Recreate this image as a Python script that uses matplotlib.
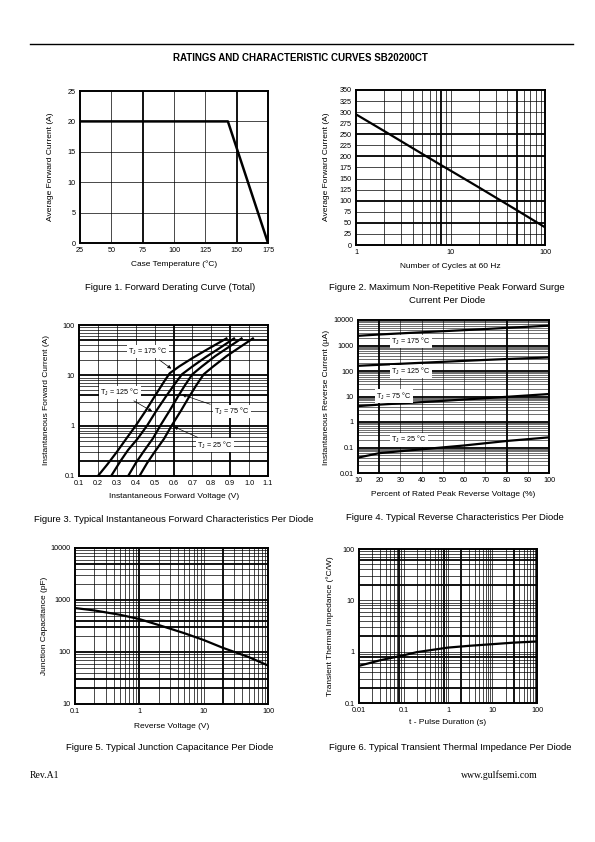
"""Ratings and characteristic curves page for SB20200CT."""
import numpy as np
import matplotlib
matplotlib.use("Agg")
import matplotlib.pyplot as plt
from matplotlib.lines import Line2D
from matplotlib.ticker import FixedLocator, FixedFormatter, NullFormatter, NullLocator

plt.rcParams["font.family"] = ["Liberation Sans", "DejaVu Sans"]
plt.rcParams["mathtext.default"] = "regular"

W, H = 595, 842

# Fig 1 - forward derating
case_temp = [25, 143, 175]
avg_current = [20, 20, 0]

# Fig 2 - surge current
cycles = [1, 2, 5, 8, 10, 20, 50, 100]
surge_current = [295, 257, 206, 180, 168, 130, 79, 40]

# Fig 3 - forward characteristics (V, A)
vf_175 = [0.20, 0.25, 0.30, 0.35, 0.40, 0.45, 0.50, 0.55, 0.58, 0.63, 0.70, 0.78, 0.88]
if_175 = [0.1, 0.17, 0.3, 0.55, 1.0, 1.9, 3.8, 7.5, 11, 15, 22, 33, 54]
vf_125 = [0.27, 0.32, 0.36, 0.41, 0.46, 0.51, 0.56, 0.61, 0.645, 0.70, 0.77, 0.84, 0.92]
if_125 = [0.1, 0.2, 0.33, 0.55, 1.0, 2.0, 3.8, 7.0, 10.5, 15, 23, 34, 54]
vf_75 = [0.36, 0.40, 0.44, 0.49, 0.53, 0.58, 0.62, 0.66, 0.70, 0.75, 0.82, 0.89, 0.96]
if_75 = [0.1, 0.18, 0.3, 0.55, 1.0, 2.0, 3.6, 6.3, 10.5, 15, 24, 36, 54]
vf_25 = [0.42, 0.46, 0.50, 0.55, 0.59, 0.64, 0.68, 0.72, 0.76, 0.81, 0.88, 0.95, 1.02]
if_25 = [0.1, 0.18, 0.3, 0.55, 1.0, 2.0, 3.6, 6.3, 10.5, 15, 24, 36, 54]

# Fig 4 - reverse characteristics (% of VRRM, uA)
pct_vr = [10, 20, 40, 60, 80, 100]
ir_175 = [2400, 2700, 3300, 4000, 4900, 6000]
ir_125 = [160, 175, 210, 250, 295, 340]
ir_75 = [4.2, 4.8, 6.0, 7.6, 9.7, 12.5]
ir_25 = [0.04, 0.06, 0.085, 0.12, 0.18, 0.25]

# Fig 5 - junction capacitance
vr = [0.1, 0.2, 0.5, 1, 2, 5, 10, 20, 50, 100]
cj = [700, 630, 520, 430, 330, 230, 170, 120, 80, 55]

# Fig 6 - transient thermal impedance
pulse_t = [0.01, 0.03, 0.1, 0.2, 0.5, 1, 3, 10, 30, 100]
zth = [0.53, 0.68, 0.85, 0.98, 1.1, 1.2, 1.3, 1.4, 1.5, 1.58]

TICK_FS = 5.2
LABEL_FS = 6.0
CAP_FS = 6.8
THIN = 0.5
THICK = 1.3


def box(x0, y0, x1, y1):
    """pixel box (top-left origin) -> figure rect"""
    return [x0 / W, 1 - y1 / H, (x1 - x0) / W, (y1 - y0) / H]


def ftext(fig, x, y, s, **kw):
    fig.text(x / W, 1 - y / H, s, **kw)


def log_minors(lo_exp, hi_exp):
    out = []
    for e in range(lo_exp, hi_exp):
        for m in range(2, 10):
            out.append(m * 10.0 ** e)
    return out


def style_axes(ax, xticks, xlabels, yticks, ylabels):
    ax.xaxis.set_major_locator(FixedLocator(xticks))
    ax.xaxis.set_major_formatter(FixedFormatter(xlabels))
    ax.yaxis.set_major_locator(FixedLocator(yticks))
    ax.yaxis.set_major_formatter(FixedFormatter(ylabels))
    ax.xaxis.set_minor_locator(NullLocator())
    ax.yaxis.set_minor_locator(NullLocator())
    ax.xaxis.set_minor_formatter(NullFormatter())
    ax.yaxis.set_minor_formatter(NullFormatter())
    ax.tick_params(length=0, labelsize=TICK_FS, pad=3)
    for sp in ax.spines.values():
        sp.set_linewidth(1.4)


def grid_lines(ax, xs=(), ys=(), xthick=(), ythick=(), thin=THIN):
    for v in xs:
        ax.axvline(v, color="black", lw=THICK if v in xthick else thin, zorder=1)
    for v in ys:
        ax.axhline(v, color="black", lw=THICK if v in ythick else thin, zorder=1)


fig = plt.figure(figsize=(W / 100, H / 100), dpi=100)

# header
fig.add_artist(Line2D([30 / W, 573 / W], [1 - 44 / H] * 2, color="black", lw=1.0))
ftext(fig, 300, 58, "RATINGS AND CHARACTERISTIC CURVES SB20200CT",
      ha="center", va="center", fontsize=7, fontweight="bold")

# ---- Figure 1
ax1 = fig.add_axes(box(80, 91, 268, 243))
ax1.set_xlim(25, 175)
ax1.set_ylim(0, 25)
grid_lines(ax1, xs=[50, 75, 100, 125, 150], ys=[5, 10, 15, 20], xthick=[75, 150])
ax1.plot(case_temp, avg_current, color="black", lw=1.8, zorder=3)
style_axes(ax1, [25, 50, 75, 100, 125, 150, 175], ["25", "50", "75", "100", "125", "150", "175"],
           [0, 5, 10, 15, 20, 25], ["0", "5", "10", "15", "20", "25"])
ftext(fig, 174, 264, "Case Temperature (°C)", ha="center", va="center", fontsize=LABEL_FS)
ftext(fig, 50, 167, "Average Forward Current (A)", ha="center", va="center", rotation=90, fontsize=LABEL_FS)
ftext(fig, 170, 288, "Figure 1. Forward Derating Curve (Total)", ha="center", va="center", fontsize=CAP_FS)

# ---- Figure 2
ax2 = fig.add_axes(box(356, 90, 545, 245))
ax2.set_xscale("log")
ax2.set_xlim(1, 100)
ax2.set_ylim(0, 350)
grid_lines(ax2, xs=log_minors(0, 2) + [10], ys=list(range(25, 350, 25)),
           xthick=[8, 50], ythick=[50, 100, 200, 250])
ax2.plot(cycles, surge_current, color="black", lw=1.6, zorder=3)
style_axes(ax2, [1, 10, 100], ["1", "10", "100"],
           list(range(0, 351, 25)), [str(v) for v in range(0, 351, 25)])
ftext(fig, 450, 266, "Number of Cycles at 60 Hz", ha="center", va="center", fontsize=LABEL_FS)
ftext(fig, 327, 167, "Average Forward Current (A)", ha="center", va="center", rotation=90, fontsize=LABEL_FS)
ftext(fig, 447, 288, "Figure 2. Maximum Non-Repetitive Peak Forward Surge", ha="center", va="center", fontsize=CAP_FS)
ftext(fig, 447, 300, "Current Per Diode", ha="center", va="center", fontsize=CAP_FS)

# ---- Figure 3
ax3 = fig.add_axes(box(79, 325, 268, 476))
ax3.set_yscale("log")
ax3.set_xlim(0.1, 1.1)
ax3.set_ylim(0.1, 100)
xg3 = [0.2, 0.3, 0.4, 0.5, 0.6, 0.7, 0.8, 0.9, 1.0]
grid_lines(ax3, xs=xg3, ys=log_minors(-1, 2) + [1, 10],
           xthick=[0.6, 0.9], ythick=[0.2, 1, 4, 10, 50])
for v, i in [(vf_175, if_175), (vf_125, if_125), (vf_75, if_75), (vf_25, if_25)]:
    ax3.plot(v, i, color="black", lw=1.6, zorder=3)
xt3 = [0.1, 0.2, 0.3, 0.4, 0.5, 0.6, 0.7, 0.8, 0.9, 1.0, 1.1]
style_axes(ax3, xt3, [f"{v:.1f}" for v in xt3], [0.1, 1, 10, 100], ["0.1", "1", "10", "100"])
bb = dict(boxstyle="square,pad=0.15", fc="white", ec="none")
arr = dict(arrowstyle="-|>", color="black", lw=0.5, mutation_scale=5)
for txt, xy, xytext in [("175", (0.60, 12.6), (0.465, 29.5)),
                        ("125", (0.50, 1.8), (0.316, 4.5)),
                        ("75", (0.632, 4.3), (0.908, 1.9)),
                        ("25", (0.59, 1.0), (0.82, 0.41))]:
    ax3.annotate(f"T$_J$ = {txt} °C", xy=xy, xytext=xytext, fontsize=5.2, ha="center",
                 va="center", bbox=bb, arrowprops=arr, zorder=4)
ftext(fig, 174, 497, "Instantaneous Forward Voltage (V)", ha="center", va="center", fontsize=LABEL_FS)
ftext(fig, 47, 400, "Instantaneous Forward Current (A)", ha="center", va="center", rotation=90, fontsize=LABEL_FS)
ftext(fig, 174, 520, "Figure 3. Typical Instantaneous Forward Characteristics Per Diode",
      ha="center", va="center", fontsize=CAP_FS)

# ---- Figure 4
ax4 = fig.add_axes(box(358, 320, 549, 473))
ax4.set_yscale("log")
ax4.set_xlim(10, 100)
ax4.set_ylim(0.01, 10000)
grid_lines(ax4, xs=list(range(20, 100, 10)), ys=log_minors(-2, 4) + [0.1, 1, 10, 100, 1000],
           xthick=[20, 80], ythick=[0.1, 1, 10, 100, 1000], thin=0.4)
for ir in [ir_175, ir_125, ir_75, ir_25]:
    ax4.plot(pct_vr, ir, color="black", lw=1.6, zorder=3)
style_axes(ax4, list(range(10, 101, 10)), [str(v) for v in range(10, 101, 10)],
           [0.01, 0.1, 1, 10, 100, 1000, 10000], ["0.01", "0.1", "1", "10", "100", "1000", "10000"])
for txt, x, y in [("175", 35, 1400), ("125", 35, 93), ("75", 27, 10.5), ("25", 34, 0.2)]:
    ax4.text(x, y, f"T$_J$ = {txt} °C", fontsize=5.2, ha="center", va="center", bbox=bb, zorder=4)
ftext(fig, 453, 495, "Percent of Rated Peak Reverse Voltage (%)", ha="center", va="center", fontsize=LABEL_FS)
ftext(fig, 327, 397, "Instantaneous Reverse Current (µA)", ha="center", va="center", rotation=90, fontsize=LABEL_FS)
ftext(fig, 455, 517, "Figure 4. Typical Reverse Characteristics Per Diode",
      ha="center", va="center", fontsize=CAP_FS)

# ---- Figure 5
ax5 = fig.add_axes(box(75, 548, 268, 704))
ax5.set_xscale("log")
ax5.set_yscale("log")
ax5.set_xlim(0.1, 100)
ax5.set_ylim(10, 10000)
grid_lines(ax5, xs=log_minors(-1, 2) + [1, 10], ys=log_minors(1, 4) + [100, 1000],
           xthick=[0.6, 1, 20], ythick=[20, 30, 100, 300, 400, 1000, 5000])
ax5.plot(vr, cj, color="black", lw=1.6, zorder=3)
style_axes(ax5, [0.1, 1, 10, 100], ["0.1", "1", "10", "100"],
           [10, 100, 1000, 10000], ["10", "100", "1000", "10000"])
ftext(fig, 172, 726, "Reverse Voltage (V)", ha="center", va="center", fontsize=LABEL_FS)
ftext(fig, 44, 626, "Junction Capacitance (pF)", ha="center", va="center", rotation=90, fontsize=LABEL_FS)
ftext(fig, 170, 748, "Figure 5. Typical Junction Capacitance Per Diode",
      ha="center", va="center", fontsize=CAP_FS)

# ---- Figure 6
ax6 = fig.add_axes(box(359, 549, 537, 703))
ax6.set_xscale("log")
ax6.set_yscale("log")
ax6.set_xlim(0.01, 100)
ax6.set_ylim(0.1, 100)
grid_lines(ax6, xs=log_minors(-2, 2) + [0.1, 1, 10], ys=log_minors(-1, 2) + [1, 10],
           xthick=[0.08, 0.8, 2, 30], ythick=[0.2, 0.8, 2, 20, 60])
ax6.plot(pulse_t, zth, color="black", lw=1.6, zorder=3)
style_axes(ax6, [0.01, 0.1, 1, 10, 100], ["0.01", "0.1", "1", "10", "100"],
           [0.1, 1, 10, 100], ["0.1", "1", "10", "100"])
ftext(fig, 448, 723, "t - Pulse Duration (s)", ha="center", va="center", fontsize=LABEL_FS)
ftext(fig, 330, 626, "Transient Thermal Impedance (°C/W)", ha="center", va="center", rotation=90, fontsize=LABEL_FS)
ftext(fig, 450, 747, "Figure 6. Typical Transient Thermal Impedance Per Diode",
      ha="center", va="center", fontsize=CAP_FS)

# footer
ftext(fig, 30, 775, "Rev.A1", ha="left", va="center", fontsize=7, family="Liberation Serif")
ftext(fig, 538, 775, "www.gulfsemi.com", ha="right", va="center", fontsize=7, family="Liberation Serif")

fig.savefig("out.png", dpi=100)
plt.close(fig)
